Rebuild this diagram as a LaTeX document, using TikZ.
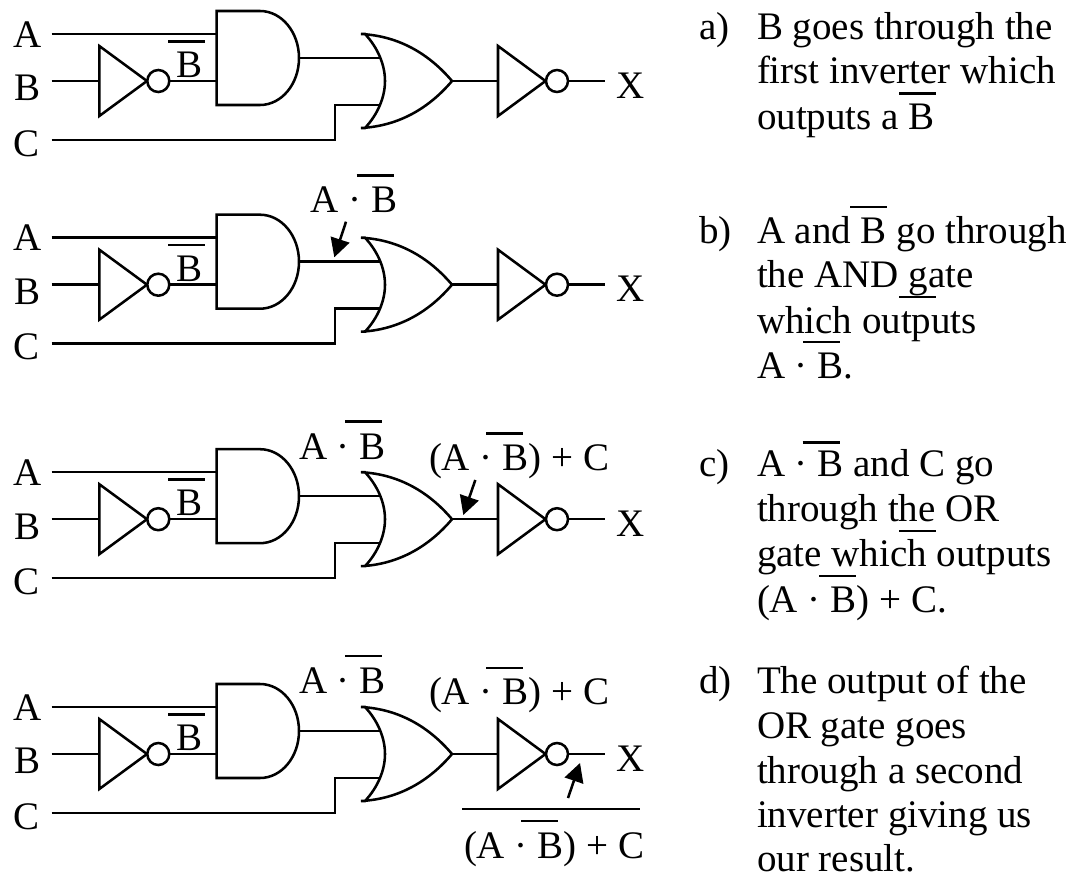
\documentclass[tikz,border=0pt]{standalone}
\usepackage{fontspec}
\setmainfont{Liberation Serif}
\usetikzlibrary{arrows.meta}
\tikzset{
  wire/.style={line width=1.9pt},
  gate/.style={line width=1.9pt,line join=miter,fill=white},
  bubble/.style={circle,draw,line width=1.9pt,fill=white,minimum size=16.5pt,inner sep=0pt,outer sep=0pt},
  txt/.style={anchor=base west,inner sep=0pt,outer sep=0pt,font=\fontsize{29.25}{35}\selectfont},
  bar/.style={line width=1.9pt},
  pointer/.style={line width=1.9pt,-{Triangle[length=14pt,width=14.5pt,sep=0pt]}},
  circuit/.pic={
    \coordinate (inA) at (51.5,34);
    \coordinate (inB) at (51.5,81);
    \coordinate (inC) at (51.5,140);
    \coordinate (andA) at (216.7,34);
    \coordinate (andB) at (216.7,81);
    \coordinate (andOut) at (299,58);
    \coordinate (orA) at (381,58);
    \coordinate (orC) at (381,105);
    \coordinate (jog) at (335,105);
    \coordinate (orOut) at (452,81);
    \coordinate (invOneIn) at (99.3,81);
    \coordinate (invTwoIn) at (498,81);
    \coordinate (outEnd) at (605,81);
    \node[txt] (lA) at (13.5,47) {A};
    \node[txt] (lB) at (14.5,100.8) {B};
    \node[txt] (lC) at (13.5,156) {C};
    \node[txt] (lBb) at (176.5,77.5) {B};
    \node[txt] (lX) at (616,98) {X};
    \draw[bar] (168.3,41.5) -- (205.3,41.5);
    \draw[wire] (inA) -- (andA);
    \draw[wire] (inB) -- (invOneIn);
    \draw[wire] (inC) -| (jog) -- (orC);
    \draw[wire] (orOut) -- (invTwoIn);
    \draw[gate] (invOneIn) -- (99.3,46) -- (147,81) -- (99.3,116) -- cycle;
    \node[bubble] (bubOne) at (158.3,81) {};
    \draw[wire] (bubOne.east) -- (andB);
    \draw[gate] (216.7,11) -- (260,11) .. controls (281.5,11) and (299,32) .. (andOut)
       .. controls (299,84) and (281.5,105) .. (260,105) -- (216.7,105) -- cycle;
    \draw[gate] (361,34) .. controls (400,36) and (430,55) .. (orOut)
       .. controls (430,107) and (400,126) .. (361,128)
       -- (365,128) .. controls (378,114) and (385,97) .. (385,81)
       .. controls (385,65) and (378,48) .. (365,34) -- cycle;
    \draw[wire] (andOut) -- (orA);
    \draw[wire] (jog) -- (orC);
    \draw[gate] (invTwoIn) -- (498,46) -- (545.5,81) -- (498,116) -- cycle;
    \node[bubble] (bubTwo) at (557,81) {};
    \draw[wire] (bubTwo.east) -- (outEnd);
  }
}
\begin{document}
\begin{tikzpicture}[x=0.75pt,y=-0.75pt]
\useasboundingbox (0,0) rectangle (1074,878);
\pic (rowa) at (0,0) {circuit};
\pic (rowb) at (0,203.7) {circuit};
\pic (rowc) at (0,438.2) {circuit};
\pic (rowd) at (0,673) {circuit};

% row b label
\node[txt] (bAB) at (310.7,212.3) {A · B};
\draw[bar] (356.7,175.3) -- (393.7,175.3);
\coordinate (bTail) at (346,221.7);
\coordinate (bTip) at (334.3,257.3);
\draw[pointer] (bTail) -- (bTip);

% row c labels
\node[txt] (cAB) at (299,459.3) {A · B};
\draw[bar] (345,421.7) -- (382,421.7);
\node[txt] (cABC) at (429,470) {(A · B) + C};
\draw[bar] (486,433.3) -- (523,433.3);
\coordinate (cTail) at (475.3,480);
\coordinate (cTip) at (463.3,515);
\draw[pointer] (cTail) -- (cTip);

% row d labels
\node[txt] (dAB) at (299,693) {A · B};
\draw[bar] (345,656) -- (382,656);
\node[txt] (dABC) at (429,704) {(A · B) + C};
\draw[bar] (486,668) -- (523,668);
\coordinate (dTail) at (568,798);
\coordinate (dTip) at (580,763);
\draw[pointer] (dTail) -- (dTip);
\draw[bar] (462,809) -- (640,809);
\node[txt] (dABCn) at (464,858) {(A · B) + C};
\draw[bar] (521,821) -- (558,821);

% text a
\node[txt] (ta) at (699,39) {a)};
\node[txt] (ta1) at (757,39) {B goes through the};
\node[txt] (ta2) at (757,83.3) {first inverter which};
\node[txt] (ta3) at (757,129.3) {outputs a B};
\draw[bar] (899.3,93.7) -- (936.3,93.7);
% text b
\node[txt] (tb) at (699,243) {b)};
\node[txt] (tb1) at (757,243) {A and B go through};
\node[txt] (tb2) at (757,287) {the AND gate};
\node[txt] (tb3) at (757,333) {which outputs};
\node[txt] (tb4) at (757,378) {A · B.};
\draw[bar] (850,207) -- (887,207);
\draw[bar] (899,297) -- (936,297);
\draw[bar] (803,342) -- (840,342);
% text c
\node[txt] (tc) at (699,476.7) {c)};
\node[txt] (tc1) at (757,476.7) {A · B and C go};
\node[txt] (tc2) at (757,521.7) {through the OR};
\node[txt] (tc3) at (757,566.7) {gate which outputs};
\node[txt] (tc4) at (757,612.7) {(A · B) + C.};
\draw[bar] (802.7,442.3) -- (839.7,442.3);
\draw[bar] (899,531) -- (936,531);
\draw[bar] (819.3,576) -- (856.3,576);
% text d
\node[txt] (td) at (699,693.3) {d)};
\node[txt] (td1) at (757,693.3) {The output of the};
\node[txt] (td2) at (757,738.3) {OR gate goes};
\node[txt] (td3) at (757,783.3) {through a second};
\node[txt] (td4) at (757,827.7) {inverter giving us};
\node[txt] (td5) at (757,871.7) {our result.};
\end{tikzpicture}
\end{document}
